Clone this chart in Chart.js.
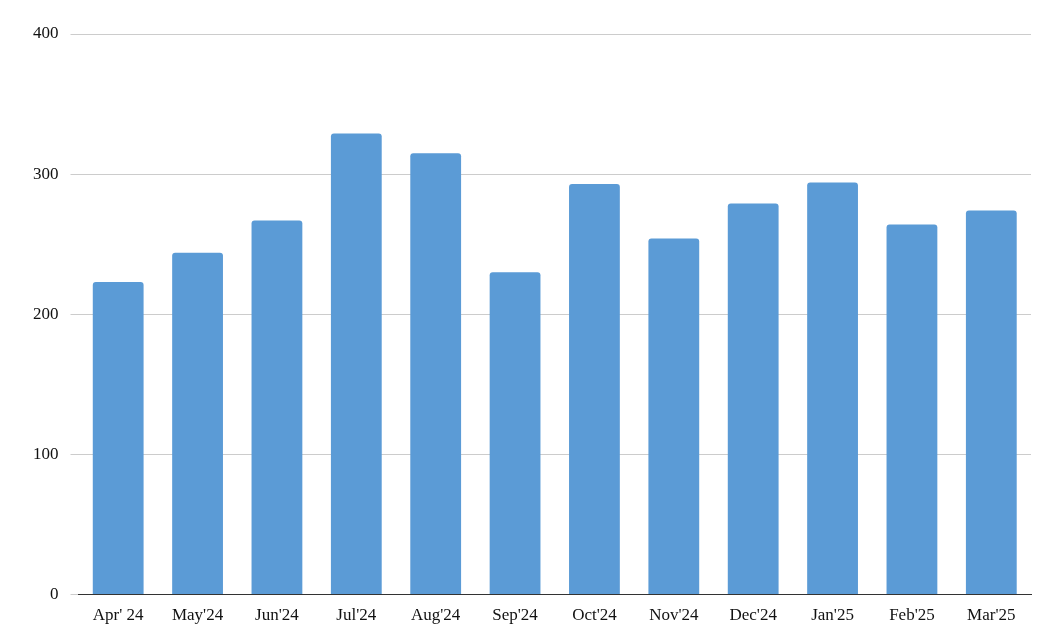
<!DOCTYPE html>
<html><head><meta charset="utf-8">
<script src="https://cdn.jsdelivr.net/npm/chart.js@4"></script>
<style>html,body{margin:0;padding:0;background:#fff}#w{width:1051px;height:640px}</style>
</head><body><div id="w"><canvas id="c"></canvas></div>
<script>
const categories = ["Apr' 24","May'24","Jun'24","Jul'24","Aug'24","Sep'24","Oct'24","Nov'24","Dec'24","Jan'25","Feb'25","Mar'25"];
const values = [223,244,267,329,315,230,293,254,279,294,264,274];
const yTicks = [0,100,200,300,400];
new Chart(document.getElementById('c'),{
  type:'bar',
  data:{labels:categories,datasets:[{data:values,backgroundColor:'#5b9bd6',borderRadius:{topLeft:3,topRight:3},borderSkipped:'bottom',categoryPercentage:0.64,barPercentage:1}]},
  options:{responsive:true,maintainAspectRatio:false,animation:false,
    layout:{padding:{left:21,right:20,top:34,bottom:11}},
    plugins:{legend:{display:false},tooltip:{enabled:false}},
    scales:{
      x:{grid:{display:false},border:{color:'#333'},ticks:{color:'#111',font:{family:'Liberation Serif',size:17},maxRotation:0,autoSkip:false}},
      y:{min:0,max:400,afterBuildTicks:s=>{s.ticks=yTicks.map(v=>({value:v}));},
        grid:{color:'#ccc'},border:{display:false},ticks:{color:'#111',padding:12,font:{family:'Liberation Serif',size:17}}}
    }}
});
</script></body></html>
